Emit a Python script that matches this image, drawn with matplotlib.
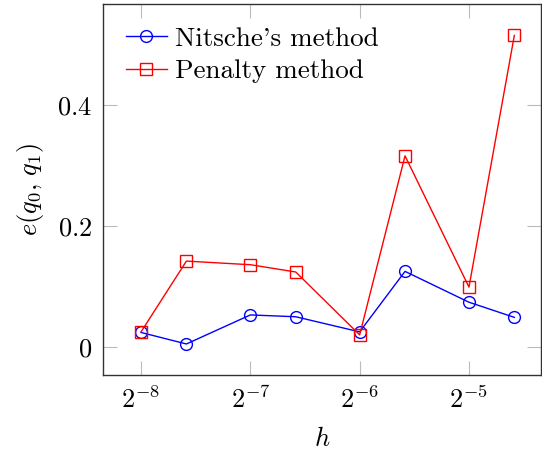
import numpy as np
import matplotlib.pyplot as plt
from matplotlib.ticker import FixedLocator, FuncFormatter, NullLocator

plt.rcParams['font.family'] = 'serif'
plt.rcParams['font.serif'] = ['cmr10']
plt.rcParams['mathtext.fontset'] = 'cm'
plt.rcParams['axes.formatter.use_mathtext'] = True

# mesh sizes
h = np.array([1/256, 1/192, 1/128, 1/96, 1/64, 1/48, 1/32, 1/24])

# errors e(q0, q1)
err_nitsche = np.array([0.024, 0.005, 0.053, 0.050, 0.025, 0.125, 0.074, 0.049])
err_penalty = np.array([0.025, 0.142, 0.136, 0.124, 0.020, 0.316, 0.099, 0.515])

xticks_exp = [-8, -7, -6, -5]
yticks = [0, 0.2, 0.4]

fig = plt.figure(figsize=(5.42, 4.54), dpi=100)
ax = fig.add_axes([103/542, 1 - 375/454, 438/542, 371/454])

ax.plot(h, err_nitsche, color='blue', lw=1.0, marker='o', ms=8.5,
        mfc='none', mec='blue', mew=1.0, label="Nitsche's method")
ax.plot(h, err_penalty, color='red', lw=1.0, marker='s', ms=8.0,
        mfc='none', mec='red', mew=1.0, label='Penalty method')

ax.set_xscale('log', base=2)
ax.set_xlim(2**-8.348, 2**-4.341)
ax.set_ylim(-0.0463, 0.567)
ax.xaxis.set_major_locator(FixedLocator([2.0**e for e in xticks_exp]))
ax.xaxis.set_minor_locator(NullLocator())
ax.xaxis.set_major_formatter(FuncFormatter(lambda v, p: r'$2^{%d}$' % round(np.log2(v))))
ax.set_yticks(yticks)
ax.yaxis.set_major_formatter(FuncFormatter(lambda v, p: '$0$' if v == 0 else r'$%.1f$' % v))

ax.tick_params(which='both', direction='in', length=10, width=0.8, color='#bbbbbb',
               top=True, right=True, labelsize=19, pad=8)
for s in ax.spines.values():
    s.set_color('#333333')
    s.set_linewidth(1.0)

ax.set_xlabel('$h$', fontsize=19, labelpad=10)
ax.set_ylabel(r'$e(q_0,\,q_1)$', fontsize=19, labelpad=8)

ax.legend(loc='upper left', frameon=False, fontsize=19.5, handlelength=1.5,
          handletextpad=0.3, labelspacing=0.3, borderaxespad=0.45)

fig.savefig('out.png', dpi=100)
